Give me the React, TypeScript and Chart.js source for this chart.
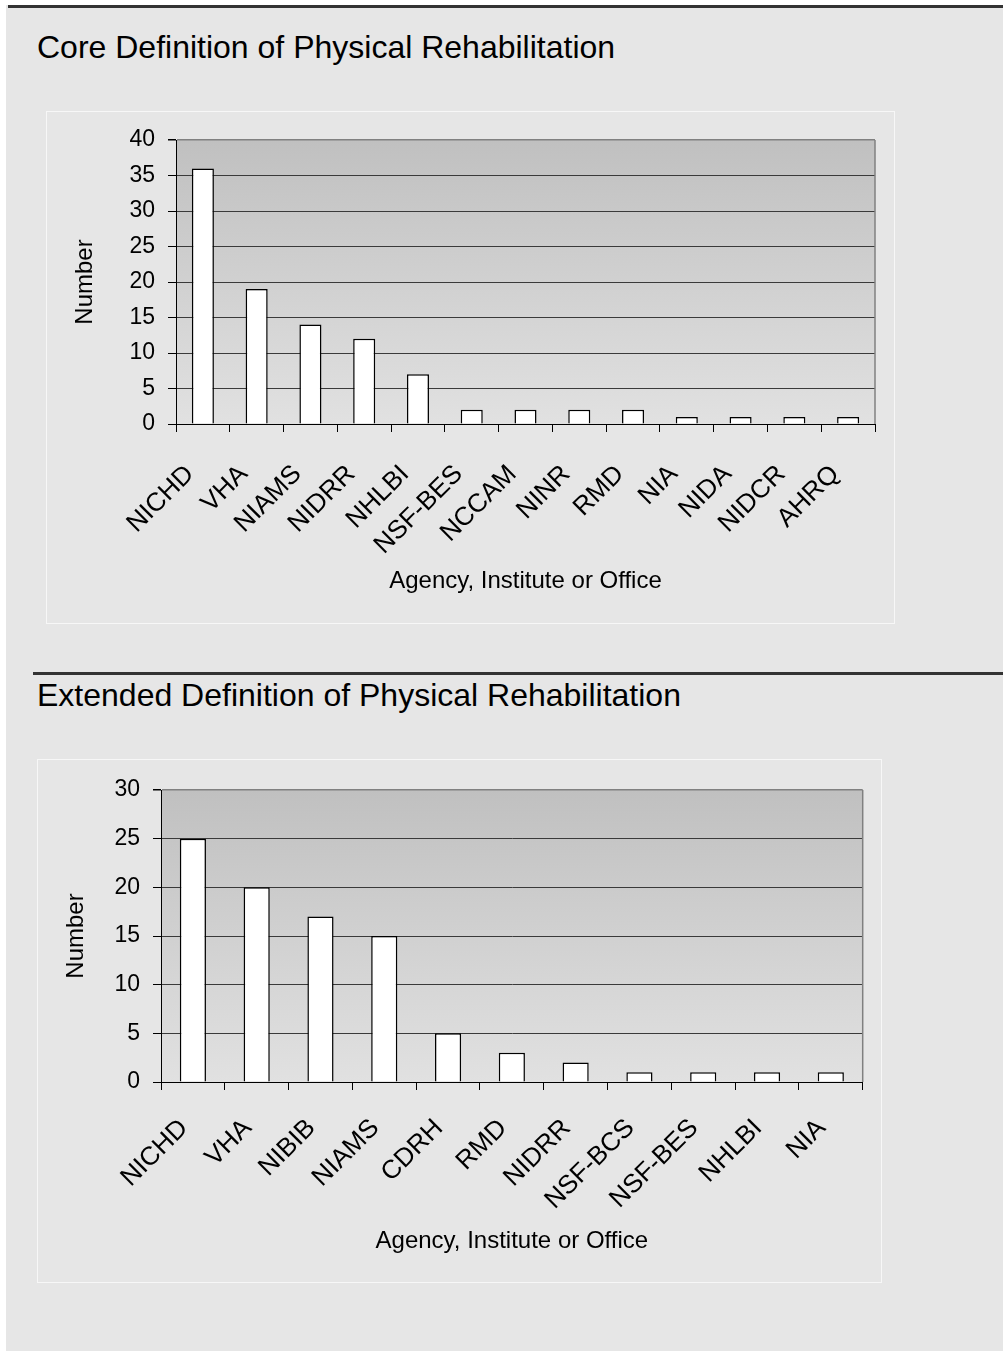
import React, { useEffect, useRef } from "react";
import { Chart, registerables } from "chart.js";

Chart.register(...registerables);

// ---- Data ----
const coreCategories = ["NICHD", "VHA", "NIAMS", "NIDRR", "NHLBI", "NSF-BES", "NCCAM", "NINR", "RMD", "NIA", "NIDA", "NIDCR", "AHRQ"];
const coreValues = [36, 19, 14, 12, 7, 2, 2, 2, 2, 1, 1, 1, 1];
const coreYMax = 40;

const extCategories = ["NICHD", "VHA", "NIBIB", "NIAMS", "CDRH", "RMD", "NIDRR", "NSF-BCS", "NSF-BES", "NHLBI", "NIA"];
const extValues = [25, 20, 17, 15, 5, 3, 2, 1, 1, 1, 1];
const extYMax = 30;

const yStep = 5;
const coreTitle = "Core Definition of Physical Rehabilitation";
const extTitle = "Extended Definition of Physical Rehabilitation";
const xAxisTitle = "Agency, Institute or Office";
const yAxisTitle = "Number";

const FONT = "'Liberation Sans', Arial, Helvetica, sans-serif";

type Geo = {
  width: number;
  height: number;
  yWidth: number;
  xHeight: number;
  padTop: number;
  padRight: number;
  yTitlePad: number;
  xTitlePad: number;
  labelPad: number;
  labelOffset: number;
};

const plotDecor = {
  id: "plotDecor",
  beforeDraw(chart: any) {
    const { ctx, chartArea: a } = chart;
    const g = ctx.createLinearGradient(0, a.top, 0, a.bottom);
    g.addColorStop(0, "#c0c0c0");
    g.addColorStop(1, "#e1e1e1");
    ctx.save();
    ctx.fillStyle = g;
    ctx.fillRect(a.left, a.top, a.right - a.left, a.bottom - a.top);
    ctx.restore();
  },
  afterDraw(chart: any) {
    const { ctx, chartArea: a } = chart;
    ctx.save();
    ctx.strokeStyle = "#808080";
    ctx.lineWidth = 1.5;
    ctx.beginPath();
    ctx.moveTo(a.right, a.top);
    ctx.lineTo(a.right, a.bottom);
    ctx.stroke();
    ctx.restore();
  },
};

function BarChart({ categories, values, yMax, geo }: { categories: string[]; values: number[]; yMax: number; geo: Geo }) {
  const ref = useRef<HTMLCanvasElement | null>(null);
  useEffect(() => {
    if (!ref.current) return;
    const chart = new Chart(ref.current, {
      type: "bar",
      data: {
        labels: categories,
        datasets: [
          {
            data: values,
            backgroundColor: "#ffffff",
            borderColor: "#000000",
            borderWidth: 1.5,
            barPercentage: 0.41,
            categoryPercentage: 1,
          },
        ],
      },
      options: {
        responsive: false,
        animation: false,
        devicePixelRatio: 1,
        layout: { padding: { left: 0, top: geo.padTop, right: geo.padRight, bottom: 0 } },
        plugins: { legend: { display: false }, tooltip: { enabled: false }, title: { display: false } },
        scales: {
          x: {
            offset: true,
            grid: {
              offset: true,
              drawOnChartArea: false,
              drawTicks: true,
              tickLength: 8,
              tickColor: "#000000",
              tickWidth: 1,
            },
            border: { color: "#000000", width: 1 },
            ticks: {
              autoSkip: false,
              minRotation: 45,
              maxRotation: 45,
              padding: geo.labelPad,
              labelOffset: geo.labelOffset,
              color: "#000000",
              font: { family: FONT, size: 26 },
            },
            title: {
              display: true,
              text: xAxisTitle,
              color: "#000000",
              font: { family: FONT, size: 24 },
              padding: { top: 0, bottom: geo.xTitlePad },
            },
            afterFit(scale: any) {
              scale.height = geo.xHeight;
              scale.paddingLeft = 0;
              scale.paddingRight = 0;
            },
          },
          y: {
            min: 0,
            max: yMax,
            ticks: {
              stepSize: yStep,
              padding: 13,
              color: "#000000",
              font: { family: FONT, size: 23 },
            },
            grid: {
              color: (c: any) => (c.tick && c.tick.value === yMax ? "#808080" : "#3a3a3a"),
              lineWidth: (c: any) => (c.tick && c.tick.value === yMax ? 1.5 : 1),
              drawTicks: true,
              tickLength: 8,
              tickColor: "#000000",
            },
            border: { color: "#000000", width: 1 },
            title: {
              display: true,
              text: yAxisTitle,
              color: "#000000",
              font: { family: FONT, size: 24 },
              padding: { top: geo.yTitlePad, bottom: 0 },
            },
            afterFit(scale: any) {
              scale.width = geo.yWidth;
            },
          },
        },
      },
      plugins: [plotDecor],
    } as any);
    return () => chart.destroy();
  }, [categories, values, yMax, geo]);
  return <canvas ref={ref} width={geo.width} height={geo.height} style={{ display: "block", width: geo.width, height: geo.height }} />;
}

const coreGeo: Geo = {
  width: 849,
  height: 513,
  yWidth: 130,
  xHeight: 200,
  padTop: 29,
  padRight: 20,
  yTitlePad: 24.6,
  xTitlePad: 28.6,
  labelPad: 27,
  labelOffset: -13,
};

const extGeo: Geo = {
  width: 845,
  height: 524,
  yWidth: 124,
  xHeight: 201,
  padTop: 31,
  padRight: 19.3,
  yTitlePad: 25.1,
  xTitlePad: 27.6,
  labelPad: 23,
  labelOffset: -9,
};

const titleStyle: React.CSSProperties = {
  position: "absolute",
  left: 37,
  fontFamily: FONT,
  fontSize: 32,
  lineHeight: "32px",
  color: "#000000",
  whiteSpace: "nowrap",
};

function Box({ left, top, geo, children }: { left: number; top: number; geo: Geo; children: React.ReactNode }) {
  return (
    <div style={{ position: "absolute", left, top, width: geo.width, height: geo.height }}>
      {children}
      <div
        style={{
          position: "absolute",
          left: 0,
          top: 0,
          width: geo.width,
          height: geo.height,
          boxSizing: "border-box",
          border: "1px solid #f7f7f7",
          pointerEvents: "none",
        }}
      />
    </div>
  );
}

export default function App() {
  return (
    <div style={{ position: "absolute", left: 0, top: 0, width: 1003, height: 1351, background: "#ffffff", overflow: "hidden" }}>
      <div style={{ position: "absolute", left: 6, top: 5, width: 997, height: 1346, background: "#e6e6e6" }} />
      <div style={{ position: "absolute", left: 8, top: 5, width: 995, height: 3, background: "#333333" }} />
      <div style={{ ...titleStyle, top: 31 }}>{coreTitle}</div>
      <Box left={46} top={111} geo={coreGeo}>
        <BarChart categories={coreCategories} values={coreValues} yMax={coreYMax} geo={coreGeo} />
      </Box>
      <div style={{ position: "absolute", left: 33, top: 672, width: 970, height: 3, background: "#333333" }} />
      <div style={{ ...titleStyle, top: 679 }}>{extTitle}</div>
      <Box left={37} top={759} geo={extGeo}>
        <BarChart categories={extCategories} values={extValues} yMax={extYMax} geo={extGeo} />
      </Box>
    </div>
  );
}
